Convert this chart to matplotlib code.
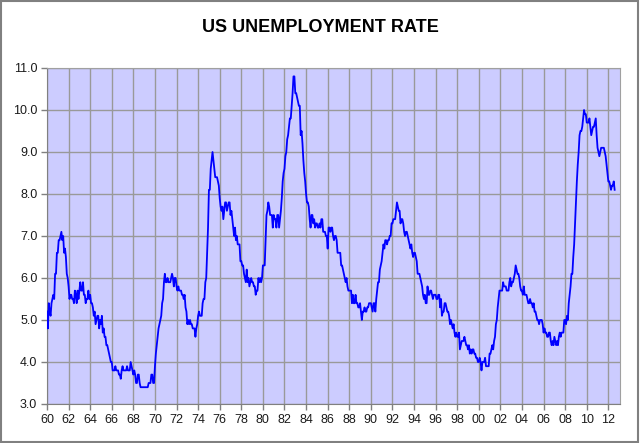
import numpy as np
import matplotlib
matplotlib.use("Agg")
import matplotlib.pyplot as plt
from matplotlib.patches import Rectangle

# monthly US unemployment rate (%), Jan 1960 .. Aug 2012
rate_1960s = [
    5.2, 4.8, 5.4, 5.2, 5.1, 5.4, 5.5, 5.6, 5.5, 6.1, 6.1, 6.6,
    6.6, 6.9, 6.9, 7.0, 7.1, 6.9, 7.0, 6.6, 6.7, 6.5, 6.1, 6.0,
    5.8, 5.5, 5.6, 5.6, 5.5, 5.5, 5.4, 5.7, 5.6, 5.4, 5.7, 5.5,
    5.7, 5.9, 5.7, 5.7, 5.9, 5.6, 5.6, 5.4, 5.5, 5.5, 5.7, 5.5,
    5.6, 5.4, 5.4, 5.3, 5.1, 5.2, 4.9, 5.0, 5.1, 5.1, 4.8, 5.0,
    4.9, 5.1, 4.7, 4.8, 4.6, 4.6, 4.4, 4.4, 4.3, 4.2, 4.1, 4.0,
    4.0, 3.8, 3.8, 3.8, 3.9, 3.8, 3.8, 3.8, 3.7, 3.7, 3.6, 3.8,
    3.9, 3.8, 3.8, 3.8, 3.8, 3.9, 3.8, 3.8, 3.8, 4.0, 3.9, 3.8,
    3.7, 3.8, 3.7, 3.5, 3.5, 3.7, 3.7, 3.5, 3.4, 3.4, 3.4, 3.4,
    3.4, 3.4, 3.4, 3.4, 3.4, 3.5, 3.5, 3.5, 3.7, 3.7, 3.5, 3.5,
]
rate_1970s = [
    3.9, 4.2, 4.4, 4.6, 4.8, 4.9, 5.0, 5.1, 5.4, 5.5, 5.9, 6.1,
    5.9, 5.9, 6.0, 5.9, 5.9, 5.9, 6.0, 6.1, 6.0, 5.8, 6.0, 6.0,
    5.8, 5.7, 5.8, 5.7, 5.7, 5.7, 5.6, 5.6, 5.5, 5.6, 5.3, 5.2,
    4.9, 5.0, 4.9, 5.0, 4.9, 4.9, 4.8, 4.8, 4.8, 4.6, 4.8, 4.9,
    5.1, 5.2, 5.1, 5.1, 5.1, 5.4, 5.5, 5.5, 5.9, 6.0, 6.6, 7.2,
    8.1, 8.1, 8.6, 8.8, 9.0, 8.8, 8.6, 8.4, 8.4, 8.4, 8.3, 8.2,
    7.9, 7.7, 7.6, 7.7, 7.4, 7.6, 7.8, 7.8, 7.6, 7.7, 7.8, 7.8,
    7.5, 7.6, 7.4, 7.2, 7.0, 7.2, 6.9, 7.0, 6.8, 6.8, 6.8, 6.4,
    6.4, 6.3, 6.3, 6.1, 6.0, 5.9, 6.2, 5.9, 6.0, 5.8, 5.9, 6.0,
    5.9, 5.9, 5.8, 5.8, 5.6, 5.7, 5.7, 6.0, 5.9, 6.0, 5.9, 6.0,
]
rate_1980s = [
    6.3, 6.3, 6.3, 6.9, 7.5, 7.6, 7.8, 7.7, 7.5, 7.5, 7.5, 7.2,
    7.5, 7.4, 7.4, 7.2, 7.5, 7.5, 7.2, 7.4, 7.6, 7.9, 8.3, 8.5,
    8.6, 8.9, 9.0, 9.3, 9.4, 9.6, 9.8, 9.8, 10.1, 10.4, 10.8, 10.8,
    10.4, 10.4, 10.3, 10.2, 10.1, 10.1, 9.4, 9.5, 9.2, 8.8, 8.5, 8.3,
    8.0, 7.8, 7.8, 7.7, 7.4, 7.2, 7.5, 7.5, 7.3, 7.4, 7.2, 7.3,
    7.3, 7.2, 7.2, 7.3, 7.2, 7.4, 7.4, 7.1, 7.1, 7.1, 7.0, 7.0,
    6.7, 7.2, 7.2, 7.1, 7.2, 7.2, 7.0, 6.9, 7.0, 7.0, 6.9, 6.6,
    6.6, 6.6, 6.6, 6.3, 6.3, 6.2, 6.1, 6.0, 5.9, 6.0, 5.8, 5.7,
    5.7, 5.7, 5.7, 5.4, 5.6, 5.4, 5.4, 5.6, 5.4, 5.4, 5.3, 5.3,
    5.4, 5.2, 5.0, 5.2, 5.2, 5.3, 5.2, 5.2, 5.3, 5.3, 5.4, 5.4,
]
rate_1990s = [
    5.4, 5.3, 5.2, 5.4, 5.4, 5.2, 5.5, 5.7, 5.9, 5.9, 6.2, 6.3,
    6.4, 6.6, 6.8, 6.7, 6.9, 6.9, 6.8, 6.9, 6.9, 7.0, 7.0, 7.3,
    7.3, 7.4, 7.4, 7.4, 7.6, 7.8, 7.7, 7.6, 7.6, 7.3, 7.4, 7.4,
    7.3, 7.1, 7.0, 7.1, 7.1, 7.0, 6.9, 6.8, 6.7, 6.8, 6.6, 6.5,
    6.6, 6.6, 6.5, 6.4, 6.1, 6.1, 6.1, 6.0, 5.9, 5.8, 5.6, 5.5,
    5.6, 5.4, 5.4, 5.8, 5.6, 5.6, 5.7, 5.7, 5.6, 5.5, 5.6, 5.6,
    5.6, 5.5, 5.5, 5.6, 5.6, 5.3, 5.5, 5.1, 5.2, 5.2, 5.4, 5.4,
    5.3, 5.2, 5.2, 5.1, 4.9, 5.0, 4.9, 4.8, 4.9, 4.7, 4.6, 4.7,
    4.6, 4.6, 4.7, 4.3, 4.4, 4.5, 4.5, 4.5, 4.6, 4.5, 4.4, 4.4,
    4.3, 4.4, 4.2, 4.3, 4.2, 4.3, 4.3, 4.2, 4.2, 4.1, 4.1, 4.0,
]
rate_2000s = [
    4.0, 4.1, 4.0, 3.8, 4.0, 4.0, 4.0, 4.1, 3.9, 3.9, 3.9, 3.9,
    4.2, 4.2, 4.3, 4.4, 4.3, 4.5, 4.6, 4.9, 5.0, 5.3, 5.5, 5.7,
    5.7, 5.7, 5.7, 5.9, 5.8, 5.8, 5.8, 5.7, 5.7, 5.7, 5.9, 6.0,
    5.8, 5.9, 5.9, 6.0, 6.1, 6.3, 6.2, 6.1, 6.1, 6.0, 5.8, 5.7,
    5.7, 5.6, 5.8, 5.6, 5.6, 5.6, 5.5, 5.4, 5.4, 5.5, 5.4, 5.4,
    5.3, 5.4, 5.2, 5.2, 5.1, 5.0, 5.0, 4.9, 5.0, 5.0, 5.0, 4.9,
    4.7, 4.8, 4.7, 4.7, 4.6, 4.6, 4.7, 4.7, 4.5, 4.4, 4.5, 4.4,
    4.6, 4.5, 4.4, 4.5, 4.4, 4.6, 4.7, 4.6, 4.7, 4.7, 4.7, 5.0,
    5.0, 4.9, 5.1, 5.0, 5.4, 5.6, 5.8, 6.1, 6.1, 6.5, 6.8, 7.3,
    7.8, 8.3, 8.7, 9.0, 9.4, 9.5, 9.5, 9.6, 9.8, 10.0, 9.9, 9.9,
]
rate_2010s = [
    9.7, 9.7, 9.7, 9.8, 9.6, 9.4, 9.5, 9.6, 9.6, 9.7, 9.8, 9.4,
    9.1, 9.0, 8.9, 9.0, 9.1, 9.1, 9.1, 9.1, 9.0, 8.9, 8.7, 8.5,
    8.3, 8.3, 8.2, 8.1, 8.2, 8.2, 8.3, 8.1,
]

rate = np.array(rate_1960s + rate_1970s + rate_1980s + rate_1990s
                + rate_2000s + rate_2010s)
years = 1960 + np.arange(len(rate)) / 12.0

tick_years = np.arange(1960, 2013, 2)
tick_labels = ["%02d" % (y % 100) for y in tick_years]

plt.rcParams["font.family"] = ["Liberation Sans", "DejaVu Sans"]

fig = plt.figure(figsize=(6.4, 4.43), dpi=100)
ax = fig.add_axes([47 / 640, 1 - 404 / 443, 573 / 640, 336 / 443])

ax.set_facecolor("#CCCCFF")
ax.plot(years, rate, color="#0000FF", lw=1.3, zorder=3)

ax.set_xlim(1960, 2013.08)
ax.set_ylim(3.0, 11.0)
ax.set_xticks(tick_years)
ax.set_xticklabels(tick_labels)
ax.set_yticks(np.arange(3, 11.1, 1.0))
ax.set_yticklabels(["%.1f" % v for v in np.arange(3, 11.1, 1.0)])
ax.grid(True, color="#999999", lw=1.0, zorder=1)
ax.set_axisbelow(True)
ax.tick_params(axis="both", direction="out", length=4, width=1,
               color="#808080", labelsize=9, labelcolor="#1a1a1a", pad=3)
for side in ["top", "right"]:
    ax.spines[side].set_color("#A0A0A0")
for side in ["left", "bottom"]:
    ax.spines[side].set_color("#808080")

fig.text(0.5, 1 - 27 / 443, "US UNEMPLOYMENT RATE", ha="center", va="center",
         fontsize=13, fontweight="bold", color="black")

# grey frame around the whole chart
fig.patches.append(Rectangle((0.002, 0.003), 0.995, 0.994, transform=fig.transFigure,
                             fill=False, edgecolor="#808080", lw=1.5))

fig.savefig("out.png", dpi=100)
